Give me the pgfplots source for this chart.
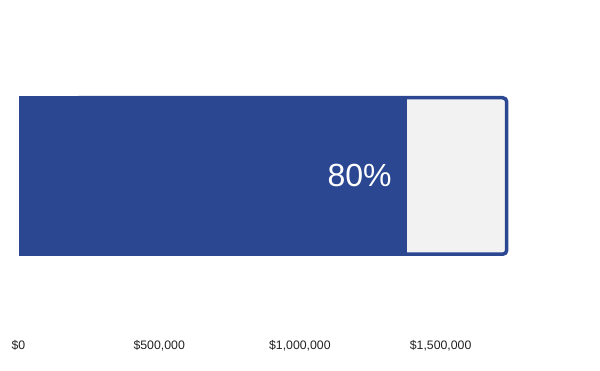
\documentclass[border=0pt]{standalone}
\usepackage{fontspec}
\setmainfont{Liberation Sans}
\usepackage{pgfplots}
\pgfplotsset{compat=1.18}
\definecolor{barblue}{HTML}{2B4792}
\definecolor{boxgray}{HTML}{F2F2F2}
\definecolor{ticktext}{HTML}{222222}
\begin{document}
\begin{tikzpicture}
\path[use as bounding box] (0,0) rectangle (600bp,371bp);
\begin{axis}[
  at={(18.5bp,40bp)}, anchor=south west,
  scale only axis, width=562.8bp, height=331bp,
  xmin=0, xmax=2000000, ymin=0, ymax=331,
  axis line style={draw=none}, tick style={draw=none},
  ytick=\empty,
  xtick={0,500000,1000000,1500000},
  xticklabels={{\$0},{\$500,000},{\$1,000,000},{\$1,500,000}},
  scaled x ticks=false,
  xticklabel style={anchor=base, yshift=-18bp, font=\fontsize{12.3bp}{14bp}\selectfont, text=ticktext},
  clip=false,
]
% target (background) box; its left end is hidden under the value bar
\addplot[fill=boxgray, draw=barblue, line width=3.5bp, rounded corners=4bp]
  coordinates {(200000,76.75) (1735000,76.75) (1735000,233.25) (200000,233.25)} -- cycle;
% actual value bar
\addplot[fill=barblue, draw=none]
  coordinates {(0,74.8) (1380000,74.8) (1380000,235.2) (0,235.2)} -- cycle;
\node[anchor=base east, inner sep=0pt, text=white, font=\fontsize{32bp}{36bp}\selectfont]
  at (axis cs:1380000,144.3) [xshift=-15bp] {80\%};
\end{axis}
\end{tikzpicture}
\end{document}
